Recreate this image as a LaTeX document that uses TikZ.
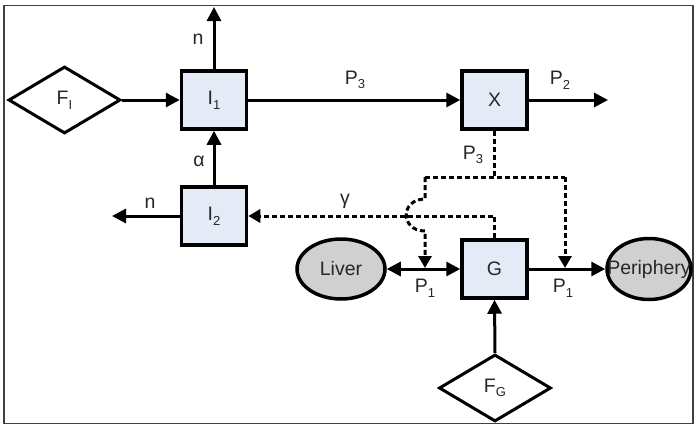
\documentclass[tikz,border=0pt]{standalone}
\usepackage{fontspec}
\setmainfont{Liberation Sans}
\usetikzlibrary{arrows.meta,shapes.geometric}
\definecolor{boxblue}{HTML}{E4EAF6}
\definecolor{organgray}{HTML}{D0D0D0}
\newcommand{\lowsub}[1]{\raisebox{-0.45ex}{\fontsize{13}{13}\selectfont #1}}
\begin{document}
\begin{tikzpicture}[x=1pt,y=-1pt,
  every node/.style={font=\fontsize{19.5}{21}\selectfont, text=black!85},
  box/.style={draw, line width=3.5pt, fill=boxblue, minimum width=65pt, minimum height=58pt, inner sep=0pt},
  dia/.style={draw, diamond, line width=3pt, fill=white, minimum width=112pt, minimum height=67pt, inner sep=0pt},
  organ/.style={draw, ellipse, line width=3.5pt, fill=organgray, inner sep=0pt},
  flow/.style={line width=3pt, -{Triangle[length=14pt,width=14pt]}},
  dflow/.style={line width=3pt, {Triangle[length=14pt,width=14pt]}-{Triangle[length=14pt,width=14pt]}},
  ctrl/.style={line width=3pt, dash pattern=on 5pt off 3pt, -{Triangle[length=12pt,width=13pt]}},
  ctrlline/.style={line width=3pt, dash pattern=on 5pt off 3pt},
  lbl/.style={inner sep=0pt}]
\useasboundingbox (0,0) rectangle (694,426);
\draw[line width=1.5pt, black!75] (4,5.5) rectangle (693,423.5);

\node[box] (I1) at (214,100) {I\lowsub{1}};
\node[box] (I2) at (214,216) {I\lowsub{2}};
\node[box] (X) at (494.5,100) {X};
\node[box] (G) at (494.5,269) {G};
\node[dia] (FI) at (64.5,100) {F\lowsub{I}};
\node[dia] (FG) at (495,388) {F\lowsub{G}};
\node[organ, minimum width=88pt, minimum height=60pt, label={[lbl]center:Liver}] (L) at (341,269) {};
\node[organ, minimum width=84pt, minimum height=61pt, label={[lbl]center:Periphery}] (P) at (649,269) {};

\coordinate (nTop) at (214,7);
\coordinate (nLeft) at (112,216);
\coordinate (P2end) at (608,100);
\coordinate (J) at (494.5,177);
\coordinate (JL) at (425,177);
\coordinate (JR) at (565,177);
\coordinate (tL) at (425,268);
\coordinate (tR) at (565,268);

\draw[flow] (FI.east) -- (I1.west);
\draw[flow] (I1.north) -- (nTop);
\draw[flow] (I2.north) -- (I1.south);
\draw[flow] (I2.west) -- (nLeft);
\draw[flow] (I1.east) -- (X.west);
\draw[flow] (X.east) -- (P2end);
\draw[ctrlline] (X.south) -- (J);
\draw[ctrlline] (JL) -- (JR);
\draw[ctrl] (JL) -- (425,199) .. controls (400,199) and (400,231) .. (425,231) -- (tL);
\draw[ctrl] (JR) -- (tR);
\draw[ctrl] (G.north) |- (I2.east);
\draw[dflow] (L.east) -- (G.west);
\draw[flow] (G.east) -- (P.west);
\draw[flow] (FG.north) -- (G.south);

\node[lbl] at (198,39) {n};
\node[lbl] at (199,161) {α};
\node[lbl] at (150,203) {n};
\node[lbl] at (345,201) {γ};
\node[lbl] at (355,80) {P\lowsub{3}};
\node[lbl] at (560,80) {P\lowsub{2}};
\node[lbl] at (473,155) {P\lowsub{3}};
\node[lbl] at (425,288) {P\lowsub{1}};
\node[lbl] at (563,288) {P\lowsub{1}};
\end{tikzpicture}
\end{document}
